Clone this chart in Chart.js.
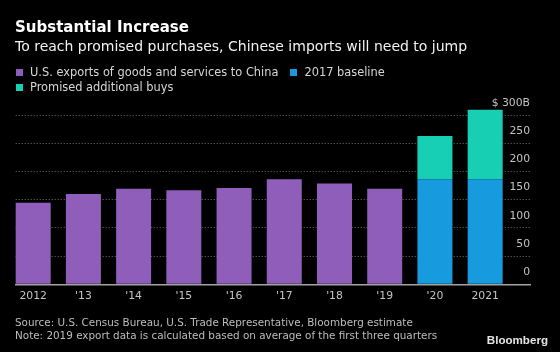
<!DOCTYPE html>
<html>
<head>
<meta charset="utf-8">
<script src="https://cdn.jsdelivr.net/npm/chart.js"></script>
<style>
html,body{margin:0;padding:0;background:#000;}
#wrap{position:relative;width:560px;height:352px;overflow:hidden;background:#000;font-family:'DejaVu Sans',sans-serif;}
#chart{position:absolute;left:0;top:0;}
.t{position:absolute;left:15px;white-space:nowrap;}
#title{top:18px;font-size:15px;line-height:18px;font-weight:bold;color:#fff;}
#subtitle{top:38px;font-size:14px;line-height:17px;color:#f2f2f2;}
#legend{position:absolute;left:16px;top:65px;width:420px;display:flex;flex-wrap:wrap;font-size:11.4px;line-height:15px;color:#d6d6d6;}
#legend .item{display:flex;align-items:center;margin-right:12px;white-space:nowrap;}
#legend .box{width:7px;height:7px;margin-right:7px;flex:none;}
#source{top:316px;font-size:10.4px;line-height:13px;color:#bdbdbd;}
#logo{position:absolute;right:12px;top:333px;font-family:'Liberation Sans',Arial,sans-serif;font-weight:bold;font-size:11.6px;line-height:14px;color:#e4e4e4;}
</style>
</head>
<body>
<div id="wrap">
  <canvas id="chart" width="560" height="352"></canvas>
  <div class="t" id="title">Substantial Increase</div>
  <div class="t" id="subtitle">To reach promised purchases, Chinese imports will need to jump</div>
  <div id="legend"></div>
  <div class="t" id="source">Source: U.S. Census Bureau, U.S. Trade Representative, Bloomberg estimate<br>Note: 2019 export data is calculated based on average of the first three quarters</div>
  <div id="logo">Bloomberg</div>
</div>
<script>
// ---- data ----
const years = ['2012', "'13", "'14", "'15", "'16", "'17", "'18", "'19", "'20", '2021'];
const usExports = [144.5, 160, 169.5, 166.5, 170.5, 186, 178.5, 169.5, null, null];
const baseline2017 = [null, null, null, null, null, null, null, null, 186, 186];
const promisedExtra = [null, null, null, null, null, null, null, null, 76.7, 123.3];
const yTickValues = [0, 50, 100, 150, 200, 250, 300];
const yTickLabels = ['0', '50', '100', '150', '200', '250', '$ 300B'];
const seriesNames = ['U.S. exports of goods and services to China', '2017 baseline', 'Promised additional buys'];
const seriesColors = ['#8f5eba', '#179bde', '#17d0b4'];

const toPoints = arr => arr.map((v, i) => ({x: i, y: v})).filter(p => p.y !== null);

const chart = new Chart(document.getElementById('chart'), {
  type: 'bar',
  data: {
    datasets: [usExports, baseline2017, promisedExtra].map((arr, k) => ({
      label: seriesNames[k],
      data: toPoints(arr),
      backgroundColor: seriesColors[k],
      borderWidth: 0,
      barPercentage: 0.697,
      categoryPercentage: 1,
      clip: false
    }))
  },
  options: {
    responsive: false,
    animation: false,
    devicePixelRatio: 1,
    layout: {padding: {left: 15.7, right: 30, top: 115, bottom: 44.7}},
    plugins: {legend: {display: false}, title: {display: false}, tooltip: {enabled: false}},
    font: {family: "'DejaVu Sans', sans-serif"},
    scales: {
      x: {
        type: 'linear',
        offset: false,
        stacked: true,
        min: -0.348,
        max: 9.893,
        bounds: 'data',
        afterBuildTicks: s => { s.ticks = years.map((_, i) => ({value: i})); },
        ticks: {
          callback: v => years[v],
          autoSkip: false, maxRotation: 0, padding: 5,
          color: '#c4c4c4',
          font: {family: "'DejaVu Sans', sans-serif", size: 10.8}
        },
        grid: {display: false, drawTicks: false, offset: false},
        border: {display: true, color: '#a3a3a3', width: 1.5, z: 1}
      },
      y: {
        type: 'linear',
        position: 'right',
        stacked: true,
        min: 0,
        max: 300,
        bounds: 'data',
        afterBuildTicks: s => { s.ticks = yTickValues.map(v => ({value: v})); },
        ticks: {
          callback: v => yTickLabels[yTickValues.indexOf(v)],
          mirror: true, padding: 0, labelOffset: -12,
          color: '#c4c4c4',
          font: {family: "'DejaVu Sans', sans-serif", size: 10.8}
        },
        grid: {
          drawTicks: false,
          lineWidth: 1,
          color: c => (c.tick && c.tick.value === 0) ? 'rgba(0,0,0,0)' : '#707070'
        },
        border: {display: false, dash: [1, 2]}
      }
    }
  }
});

// HTML legend built from the chart's datasets
const legendEl = document.getElementById('legend');
chart.data.datasets.forEach(ds => {
  const item = document.createElement('span');
  item.className = 'item';
  const box = document.createElement('span');
  box.className = 'box';
  box.style.background = ds.backgroundColor;
  const txt = document.createElement('span');
  txt.textContent = ds.label;
  item.appendChild(box);
  item.appendChild(txt);
  legendEl.appendChild(item);
});
</script>
</body>
</html>
